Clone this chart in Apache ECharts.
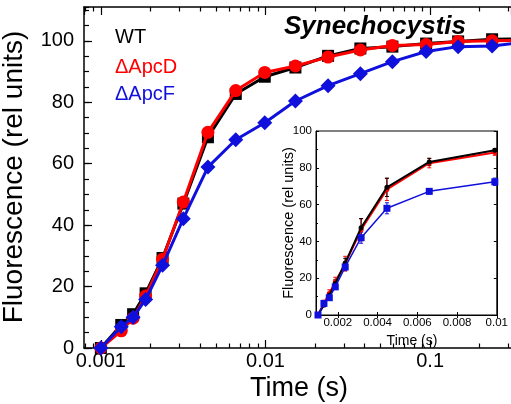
<!DOCTYPE html>
<html><head><meta charset="utf-8">
<script src="https://cdn.jsdelivr.net/npm/echarts@6/dist/echarts.min.js"></script>
<style>html,body{margin:0;padding:0;background:#fff}#c{width:511px;height:404px}</style>
</head><body><div id="c"></div>
<script>
// ---- data ----
const timeMain = [0.001, 0.00133, 0.00157, 0.00187, 0.00237, 0.00317, 0.00447, 0.0066, 0.0099, 0.0152, 0.024, 0.0377, 0.059, 0.0946, 0.148, 0.238, 0.38];
const wtMain   = [0, 7.5, 11, 17.8, 29.3, 47, 68.6, 82.7, 88.3, 91.3, 95.1, 97.5, 98.1, 99.1, 99.8, 100.5, 100.7];
const apcDMain = [0, 5.6, 9.7, 16.9, 28.9, 47.5, 70.2, 83.8, 89.7, 91.8, 94.7, 97, 98.5, 98.8, 99.8, 100, 100.1];
const apcFMain = [0, 6.9, 10, 15.8, 26.9, 42.1, 58.9, 67.8, 73.3, 80.4, 85.4, 89.3, 93.2, 96.5, 98.1, 98.3, 99.6];

const timeInset = [0.001, 0.0013, 0.00157, 0.00187, 0.00237, 0.00317, 0.00447, 0.0066, 0.0099];
const wtInset   = [0, 5.5, 10.8, 17.1, 28.3, 47.4, 69.4, 83.2, 89.5];
const apcDInset = [0, 6.5, 11.7, 18, 27.9, 46.3, 68.2, 82.5, 88.3];
const apcFInset = [0, 6.3, 9.4, 15.3, 26.1, 42, 58, 67.2, 72.4];
const wtErr     = [0, 1, 1.5, 2, 2.5, 5, 5, 2, 1];
const apcDErr   = [0, 1.5, 2, 2.5, 4, 6, 6, 2.5, 1.5];
const apcFErr   = [0, 1, 1, 1.5, 2, 3, 3, 1.5, 2];

const mainMinorTicks = [0.0008, 0.0009, 0.002, 0.003, 0.004, 0.005, 0.006, 0.007, 0.008, 0.009,
  0.02, 0.03, 0.04, 0.05, 0.06, 0.07, 0.08, 0.09, 0.2, 0.3];
const insetXTicks = [0.002, 0.004, 0.006, 0.008, 0.01];
const legendNames = ['WT', '\u0394ApcD', '\u0394ApcF'];
const colors = ['#000000', '#ff0000', '#1010dd'];

// ---- chart ----
const FONT = 'Arial, "Liberation Sans", sans-serif';
const chart = echarts.init(document.getElementById('c'), null, {renderer: 'canvas'});
const pair = (xs, ys) => xs.map((x, i) => [x, ys[i]]);
const triple = (xs, ys, es) => xs.map((x, i) => [x, ys[i], es[i]]);

function errRender(color) {
  return function (params, api) {
    const x = api.value(0), y = api.value(1), e = api.value(2);
    if (!e) return null;
    const t = api.coord([x, y + e]), b = api.coord([x, y - e]);
    const w = 2;
    const st = {stroke: color, lineWidth: 1};
    return {type: 'group', children: [
      {type: 'line', shape: {x1: t[0], y1: t[1], x2: b[0], y2: b[1]}, style: st},
      {type: 'line', shape: {x1: t[0] - w, y1: t[1], x2: t[0] + w, y2: t[1]}, style: st},
      {type: 'line', shape: {x1: b[0] - w, y1: b[1], x2: b[0] + w, y2: b[1]}, style: st}
    ]};
  };
}

const mainMin = 0.00079, mainMax = 0.31;

const option = {
  animation: false,
  backgroundColor: '#fff',
  grid: [
    {left: 84, top: 7, right: 0, bottom: 56, show: false},
    {left: 316, top: 131, right: 10, bottom: 89, show: true, backgroundColor: '#fff', borderColor: '#000', borderWidth: 1, z: 5}
  ],
  xAxis: [
    {type: 'log', gridIndex: 0, min: mainMin, max: mainMax, position: 'bottom',
     axisLine: {show: true, lineStyle: {color: '#000', width: 1.5}},
     axisTick: {show: true, inside: true, length: 8, lineStyle: {color: '#000', width: 1.2}},
     axisLabel: {show: true, color: '#000', fontSize: 20, fontFamily: FONT, margin: 3, showMinLabel: false, showMaxLabel: false},
     splitLine: {show: false}, minorTick: {show: false}, minorSplitLine: {show: false}},
    {type: 'log', gridIndex: 0, min: mainMin, max: mainMax, position: 'bottom',
     axisLine: {show: false},
     axisTick: {show: true, inside: true, length: 4.5, customValues: mainMinorTicks, lineStyle: {color: '#000', width: 1.2}},
     axisLabel: {show: false}, splitLine: {show: false}},
    {type: 'log', gridIndex: 0, min: mainMin, max: mainMax, position: 'top',
     axisLine: {show: true, lineStyle: {color: '#000', width: 1.5}},
     axisTick: {show: true, inside: true, length: 8, lineStyle: {color: '#000', width: 1.2}},
     axisLabel: {show: false}, splitLine: {show: false}},
    {type: 'log', gridIndex: 0, min: mainMin, max: mainMax, position: 'top',
     axisLine: {show: false},
     axisTick: {show: true, inside: true, length: 4.5, customValues: mainMinorTicks, lineStyle: {color: '#000', width: 1.2}},
     axisLabel: {show: false}, splitLine: {show: false}},
    {type: 'value', gridIndex: 1, min: 0.0009, max: 0.01, position: 'bottom', z: 6,
     axisLine: {show: true, lineStyle: {color: '#000', width: 1}},
     axisTick: {show: true, inside: true, length: 3, customValues: insetXTicks, lineStyle: {color: '#000'}},
     axisLabel: {show: true, customValues: insetXTicks, color: '#000', fontSize: 11.5, fontFamily: FONT, margin: 2},
     splitLine: {show: false}},
    {type: 'value', gridIndex: 1, min: 0.0009, max: 0.01, position: 'top', z: 6,
     axisLine: {show: true, lineStyle: {color: '#000', width: 1}},
     axisTick: {show: true, inside: true, length: 3, customValues: insetXTicks, lineStyle: {color: '#000'}},
     axisLabel: {show: false}, splitLine: {show: false}}
  ],
  yAxis: [
    {type: 'value', gridIndex: 0, min: 0, max: 111, interval: 20, position: 'left',
     axisLine: {show: true, lineStyle: {color: '#000', width: 1.5}},
     axisTick: {show: true, inside: true, length: 8, lineStyle: {color: '#000', width: 1.2}},
     axisLabel: {show: true, color: '#000', fontSize: 20, fontFamily: FONT, margin: 10, showMaxLabel: false},
     splitLine: {show: false}},
    {type: 'value', gridIndex: 0, min: 0, max: 111, interval: 5, position: 'left',
     axisLine: {show: false},
     axisTick: {show: true, inside: true, length: 5, lineStyle: {color: '#000', width: 1.2}},
     axisLabel: {show: false}, splitLine: {show: false}},
    {type: 'value', gridIndex: 1, min: 0, max: 100, interval: 20, position: 'left', z: 6,
     axisLine: {show: true, lineStyle: {color: '#000', width: 1}},
     axisTick: {show: true, inside: true, length: 3, lineStyle: {color: '#000'}},
     minorTick: {show: true, splitNumber: 2, length: 2, lineStyle: {color: '#000'}},
     axisLabel: {show: true, color: '#000', fontSize: 11.5, fontFamily: FONT, margin: 4},
     splitLine: {show: false}},
    {type: 'value', gridIndex: 1, min: 0, max: 100, interval: 20, position: 'right', z: 6,
     axisLine: {show: true, lineStyle: {color: '#000', width: 1}},
     axisTick: {show: true, inside: true, length: 3, lineStyle: {color: '#000'}},
     axisLabel: {show: false}, splitLine: {show: false}}
  ],
  series: [
    {name: legendNames[0], type: 'line', xAxisIndex: 0, yAxisIndex: 0, data: pair(timeMain, wtMain),
     symbol: 'rect', symbolSize: 12, itemStyle: {color: colors[0]}, lineStyle: {color: colors[0], width: 3}, z: 2},
    {name: legendNames[1], type: 'line', xAxisIndex: 0, yAxisIndex: 0, data: pair(timeMain, apcDMain),
     symbol: 'circle', symbolSize: 13, itemStyle: {color: colors[1]}, lineStyle: {color: colors[1], width: 3}, z: 3},
    {name: legendNames[2], type: 'line', xAxisIndex: 0, yAxisIndex: 0, data: pair(timeMain, apcFMain),
     symbol: 'diamond', symbolSize: 15, itemStyle: {color: colors[2]}, lineStyle: {color: colors[2], width: 3}, z: 4},

    {type: 'custom', xAxisIndex: 4, yAxisIndex: 2, data: triple(timeInset, apcDInset, apcDErr), renderItem: errRender(colors[1]), z: 10},
    {type: 'custom', xAxisIndex: 4, yAxisIndex: 2, data: triple(timeInset, wtInset, wtErr), renderItem: errRender(colors[0]), z: 10},
    {type: 'custom', xAxisIndex: 4, yAxisIndex: 2, data: triple(timeInset, apcFInset, apcFErr), renderItem: errRender(colors[2]), z: 10},
    {type: 'line', xAxisIndex: 4, yAxisIndex: 2, data: pair(timeInset, apcDInset),
     symbol: 'circle', symbolSize: 5, itemStyle: {color: colors[1]}, lineStyle: {color: colors[1], width: 2}, z: 11},
    {type: 'line', xAxisIndex: 4, yAxisIndex: 2, data: pair(timeInset, wtInset),
     symbol: 'circle', symbolSize: 5, itemStyle: {color: colors[0]}, lineStyle: {color: colors[0], width: 2}, z: 12},
    {type: 'line', xAxisIndex: 4, yAxisIndex: 2, data: pair(timeInset, apcFInset),
     symbol: 'rect', symbolSize: 7, itemStyle: {color: colors[2]}, lineStyle: {color: colors[2], width: 1.5}, z: 13}
  ],
  graphic: [
    {type: 'text', x: 299, y: 389, style: {text: 'Time (s)', fill: '#000', font: '27px ' + FONT, textAlign: 'center', textVerticalAlign: 'middle'}},
    {type: 'text', x: 14, y: 177, rotation: Math.PI / 2, style: {text: 'Fluorescence (rel units)', fill: '#000', font: '28px ' + FONT, textAlign: 'center', textVerticalAlign: 'middle'}},
    {type: 'text', x: 375, y: 27, style: {text: 'Synechocystis', fill: '#000', font: 'italic bold 26px ' + FONT, textAlign: 'center', textVerticalAlign: 'middle'}},
    {type: 'text', x: 115, y: 37, style: {text: legendNames[0], fill: colors[0], font: '20px ' + FONT, textVerticalAlign: 'middle'}},
    {type: 'text', x: 115, y: 67, style: {text: legendNames[1], fill: colors[1], font: '20px ' + FONT, textVerticalAlign: 'middle'}},
    {type: 'text', x: 115, y: 94, style: {text: legendNames[2], fill: colors[2], font: '20px ' + FONT, textVerticalAlign: 'middle'}},
    {type: 'text', x: 412, y: 341, z: 20, style: {text: 'Time (s)', fill: '#000', font: '14px ' + FONT, textAlign: 'center', textVerticalAlign: 'middle'}},
    {type: 'text', x: 289, y: 223, z: 20, rotation: Math.PI / 2, style: {text: 'Fluorescence (rel units)', fill: '#000', font: '14.5px ' + FONT, textAlign: 'center', textVerticalAlign: 'middle'}}
  ]
};
chart.setOption(option);
</script></body></html>
